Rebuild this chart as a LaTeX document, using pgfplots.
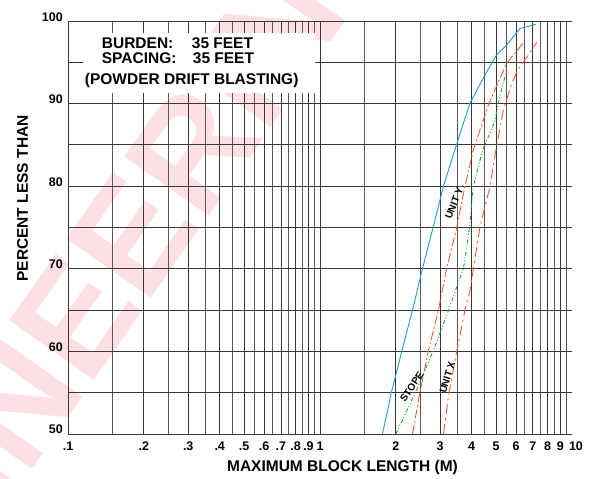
\documentclass[border=0pt]{standalone}
\usepackage{fontspec}
\setmainfont{Liberation Sans}
\usepackage{pgfplots}
\pgfplotsset{compat=1.18}
\definecolor{gridc}{HTML}{3F3633}
\definecolor{gridl}{HTML}{5E5552}
\definecolor{cblue}{HTML}{1E9AD6}
\definecolor{corange}{HTML}{F05A28}
\definecolor{cgreen}{HTML}{239B4B}
\definecolor{wm}{RGB}{253,224,230}
\begin{document}
\begin{tikzpicture}
\node[overlay, rotate=55, inner sep=0pt, text=wm, font=\fontsize{150}{150}\selectfont\bfseries] at (7pt,116pt) {ENGINEERING};
\begin{axis}[
  at={(0pt,0pt)}, anchor=south west,
  scale only axis, width=504pt, height=413pt,
  xmode=log, log basis x=10, xmin=0.1, xmax=10, ymin=50, ymax=100,
  axis x line*=bottom, axis y line*=left,
  axis line style={gridc, line width=0.9pt, -},
  xtick={0.1,0.2,0.3,0.4,0.5,0.6,0.7,0.8,0.9,1,2,3,4,5,6,7,8,9},
  xticklabels={.1,.2,.3,.4,.5,.6,.7,.8,.9,1,2,3,4,5,6,7,8,9},
  minor xtick={0.15,0.25,0.35,0.45,0.55,0.65,0.75,0.85,0.95,1.5,2.5,3.5,4.5,5.5,6.5,7.5,8.5,9.5},
  extra x ticks={10}, extra x tick labels={10},
  extra x tick style={grid=none, xticklabel style={xshift=4pt}},
  ytick={50,60,70,80,90,100}, minor ytick={55,65,75,85,95},
  grid=both,
  major grid style={gridc, line width=0.9pt},
  minor x grid style={gridl, line width=0.9pt},
  minor y grid style={gridc, line width=0.9pt},
  major tick length=0pt, minor tick length=0pt,
  tick label style={font=\fontsize{12.5}{14}\selectfont\bfseries},
  /pgf/number format/assume math mode=true,
  xticklabel style={anchor=north, inner sep=0pt, yshift=-7.5pt},
  yticklabel style={anchor=base east, inner sep=0pt, xshift=-5pt},
  clip=false,
]
\addplot[cblue, line width=0.9pt] coordinates {(1.77,50)(1.92,55)(2.11,60)(2.33,65)(2.55,70)(2.81,75)(3.09,80)(3.43,84.4)(3.93,90)(4.52,93.5)(5.02,95.9)(5.51,97.1)(6.22,99.1)(7.18,99.6)};
\addplot[corange, line width=0.9pt, dash pattern=on 9pt off 2.5pt on 2pt off 2.5pt] coordinates {(2.33,50)(2.49,55)(2.69,60)(2.95,65)(3.18,70)(3.49,75)(3.76,80)(4.06,84.4)(4.68,90)(5.10,92.6)(5.51,94.9)(6.47,97.5)};
\addplot[cgreen, line width=0.9pt, dash pattern=on 4pt off 2pt on 1pt off 2pt on 1pt off 2pt] coordinates {(2.0,50)(2.39,55)(2.81,60)(3.24,65)(3.45,67.4)(3.71,70)(3.92,75)(4.06,80)(4.42,84.4)(4.94,87.8)(5.10,90)(5.34,92.6)(5.53,94)};
\addplot[corange, line width=0.9pt, dash pattern=on 10pt off 4pt on 2pt off 4pt] coordinates {(3.09,50)(3.25,55)(3.49,60)(3.76,65)(3.94,67.4)(4.06,70)(4.31,75)(4.73,80)(4.99,84.4)(5.34,89.2)(5.76,92.4)(6.12,94.2)(6.76,96)(7.24,97.4)};
\end{axis}
\fill[white] (15pt,341pt) rectangle (247pt,401pt);
\begin{scope}[every node/.style={inner sep=0pt, font=\fontsize{15.5}{16}\selectfont\bfseries}]
\node[anchor=base west] at (33.7pt,385.7pt) {BURDEN:};
\node[anchor=base west] at (123.7pt,385.7pt) {35 FEET};
\node[anchor=base west] at (33.7pt,370.7pt) {SPACING:};
\node[anchor=base west] at (124.7pt,370.7pt) {35 FEET};
\node[anchor=base] at (123.7pt,349pt) {(POWDER DRIFT BLASTING)};
\node[anchor=base] at (274.5pt,-37.7pt) {MAXIMUM BLOCK LENGTH (M)};
\node[anchor=base, rotate=90] at (-40pt,235.5pt) {PERCENT LESS THAN};
\end{scope}
\begin{scope}[every node/.style={inner sep=0pt, font=\fontsize{10}{11}\selectfont\bfseries}]
\node[rotate=68] at (386.2pt,230.7pt) {UNIT Y};
\node[rotate=73] at (379.3pt,56.7pt) {UNIT X};
\node[rotate=56] at (343.7pt,47.3pt) {STOPE};
\end{scope}
\pgfresetboundingbox
\useasboundingbox (-68pt,-45pt) rectangle (522pt,434pt);
\end{tikzpicture}
\end{document}
